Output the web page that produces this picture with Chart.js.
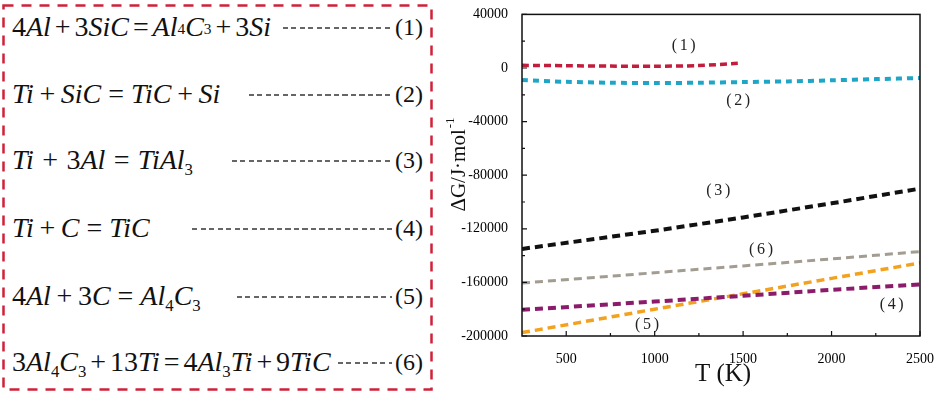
<!DOCTYPE html>
<html>
<head>
<meta charset="utf-8">
<script src="https://cdn.jsdelivr.net/npm/chart.js@4.4.1/dist/chart.umd.min.js"></script>
<style>
  html, body { margin: 0; padding: 0; background: #fff; }
  body { width: 941px; height: 395px; position: relative; overflow: hidden; font-family: "Liberation Serif", "Times New Roman", serif; }
  #box { position: absolute; left: 0; top: 0; }
  .row { position: absolute; left: 12px; width: 411px; height: 40px; line-height: 40px; font-size: 28px; color: #111; white-space: nowrap;
         font-family: "Liberation Serif", "Times New Roman", serif; }
  .row i { font-style: italic; }
  .op { margin: 0 0.2em; }
  .eq { margin: 0 0.25em; }
  .tight .op, .tight .eq { margin: 0 0.14em; }
  .wide .op, .wide .eq { margin: 0 0.3em; }
  .row sub { font-size: 0.6em; vertical-align: -0.35em; line-height: 0; }
  .small { font-size: 0.55em; vertical-align: 0.15em; }
  .lead { position: absolute; right: 31px; top: 20px; height: 1.5px;
          background: repeating-linear-gradient(90deg, #666 0 5px, transparent 5px 8.5px); }
  .num { position: absolute; right: 0; top: 0; font-size: 24px; }
  #wrap { position: absolute; left: 440px; top: 0; width: 501px; height: 395px; }
</style>
</head>
<body>
<svg id="box" width="440" height="395">
  <rect x="3.5" y="5.5" width="428" height="384" fill="none" stroke="#d0203a" stroke-width="2.5" stroke-dasharray="10 8"/>
</svg>

<div class="row tight" style="top:7px"><span>4<i>Al</i><span class="op">+</span>3<i>SiC</i><span class="eq">=</span><i>Al</i><span class="small">4</span><i>C</i><span class="small">3</span><span class="op">+</span>3<i>Si</i></span>
  <span class="lead" style="left:271px"></span><span class="num">(1)</span></div>
<div class="row" style="top:74px"><span><i>Ti</i><span class="op">+</span><i>SiC</i><span class="eq">=</span><i>TiC</i><span class="op">+</span><i>Si</i></span>
  <span class="lead" style="left:237px"></span><span class="num">(2)</span></div>
<div class="row wide" style="top:140px"><span><i>Ti</i><span class="op">+</span>3<i>Al</i><span class="eq">=</span><i>TiAl</i><sub>3</sub></span>
  <span class="lead" style="left:220px"></span><span class="num">(3)</span></div>
<div class="row" style="top:208px"><span><i>Ti</i><span class="op">+</span><i>C</i><span class="eq">=</span><i>TiC</i></span>
  <span class="lead" style="left:180px"></span><span class="num">(4)</span></div>
<div class="row" style="top:276px"><span>4<i>Al</i><span class="op">+</span>3<i>C</i><span class="eq">=</span><i>Al</i><sub>4</sub><i>C</i><sub>3</sub></span>
  <span class="lead" style="left:225px"></span><span class="num">(5)</span></div>
<div class="row tight" style="top:342px"><span>3<i>Al</i><sub>4</sub><i>C</i><sub>3</sub><span class="op">+</span>13<i>Ti</i><span class="eq">=</span>4<i>Al</i><sub>3</sub><i>Ti</i><span class="op">+</span>9<i>TiC</i></span>
  <span class="lead" style="left:326px"></span><span class="num">(6)</span></div>

<div id="wrap"><canvas id="chart"></canvas></div>

<script>
// temperatures (K) and Gibbs free energy change (J/mol)
const tempR1 = [250, 500, 750, 1000, 1250, 1470];
const dgR1 = [2000, 1700, 1400, 1300, 1800, 3500];

const tempR2 = [250, 500, 750, 1000, 1250, 1500, 1750, 2000, 2250, 2500];
const dgR2 = [-9000, -10300, -11000, -11200, -11000, -10500, -10000, -9200, -8300, -7500];

const tempLin = [250, 1000, 1500, 2000, 2500];
const dgR3 = [-135000, -121500, -111500, -101000, -90000];
const dgR4 = [-180500, -174300, -170000, -165500, -161500];
const dgR5 = [-197500, -180000, -168500, -157000, -145500];
const dgR6 = [-160500, -152800, -147700, -142500, -137000];

const xTicks = [500, 1000, 1500, 2000, 2500];
const xMinor = [750, 1250, 1750, 2250];
const yTicks = [-200000, -160000, -120000, -80000, -40000, 0, 40000];
const yMinor = [-180000, -140000, -100000, -60000, -20000, 20000];

const curveNames = ["(1)", "(2)", "(3)", "(4)", "(5)", "(6)"];
const curveLabelAt = [[1164, 16400], [1472, -24500], [1360, -91500], [2340, -177000], [957, -191800], [1601, -136000]];

function pts(ts, vs) {
  return ts.map((t, i) => ({ x: t, y: vs[i] }));
}

function series(ts, vs, color, width, dash, tension) {
  return {
    data: pts(ts, vs),
    borderColor: color,
    backgroundColor: color,
    borderWidth: width,
    borderDash: dash,
    pointRadius: 0,
    tension: tension || 0,
    fill: false,
  };
}

const serif = "'Liberation Serif', 'Times New Roman', serif";

// frame, inward ticks, axis titles and curve labels
const decor = {
  id: "decor",
  afterDraw(chart) {
    const { ctx, chartArea: a, scales } = chart;
    const xs = scales.x, ys = scales.y;
    ctx.save();
    ctx.strokeStyle = "#111";
    ctx.lineWidth = 1.5;
    ctx.strokeRect(a.left, a.top, a.right - a.left, a.bottom - a.top);

    ctx.lineWidth = 1.2;
    ctx.beginPath();
    xTicks.forEach((v) => { const p = xs.getPixelForValue(v); ctx.moveTo(p, a.bottom); ctx.lineTo(p, a.bottom - 5); });
    xMinor.forEach((v) => { const p = xs.getPixelForValue(v); ctx.moveTo(p, a.bottom); ctx.lineTo(p, a.bottom - 3); });
    yTicks.forEach((v) => { const p = ys.getPixelForValue(v); ctx.moveTo(a.left, p); ctx.lineTo(a.left + 5, p); });
    yMinor.forEach((v) => { const p = ys.getPixelForValue(v); ctx.moveTo(a.left, p); ctx.lineTo(a.left + 3, p); });
    ctx.stroke();

    ctx.fillStyle = "#111";
    ctx.textAlign = "center";
    ctx.textBaseline = "middle";
    ctx.font = "25px " + serif;
    ctx.fillText("T (K)", 283, 374);

    // y title rotated, with superscript
    ctx.save();
    ctx.translate(19, 165);
    ctx.rotate(-Math.PI / 2);
    ctx.font = "21px " + serif;
    const main = "\u0394G/J\u00b7mol";
    const w1 = ctx.measureText(main).width;
    ctx.font = "13px " + serif;
    const w2 = ctx.measureText("-1").width;
    const start = -(w1 + w2) / 2;
    ctx.textAlign = "left";
    ctx.font = "21px " + serif;
    ctx.fillText(main, start, 0);
    ctx.font = "13px " + serif;
    ctx.fillText("-1", start + w1 + 1, -8);
    ctx.restore();

    ctx.font = "16px " + serif;
    ctx.fillStyle = "#222";
    curveNames.forEach((n, i) => {
      const [t, g] = curveLabelAt[i];
      ctx.fillText(n.replace("(", "(\u2006").replace(")", "\u2006)"), xs.getPixelForValue(t), ys.getPixelForValue(g));
    });
    ctx.restore();
  },
};

new Chart(document.getElementById("chart").getContext("2d"), {
  type: "line",
  data: {
    datasets: [
      series(tempR1, dgR1, "#c21d3c", 3.5, [7, 4], 0.3),
      series(tempR2, dgR2, "#1fa6c6", 4, [6, 5], 0.3),
      series(tempLin, dgR3, "#111111", 4, [8, 5]),
      series(tempLin, dgR4, "#8b1c6c", 4, [8, 5]),
      series(tempLin, dgR5, "#f2a21e", 3.5, [8, 5]),
      series(tempLin, dgR6, "#a29c91", 3, [8, 5]),
    ],
  },
  options: {
    responsive: true,
    maintainAspectRatio: false,
    animation: false,
    devicePixelRatio: 1,
    layout: { padding: { top: 13, right: 17, left: 0, bottom: 0 } },
    plugins: { legend: { display: false }, tooltip: { enabled: false } },
    scales: {
      x: {
        type: "linear",
        min: 250,
        max: 2500,
        grid: { display: false },
        border: { display: false },
        afterBuildTicks: (s) => { s.ticks = xTicks.map((v) => ({ value: v })); },
        afterFit: (s) => { s.height = 59; },
        ticks: { padding: 7, color: "#000", font: { family: serif, size: 14 }, maxRotation: 0, callback: (v) => String(v) },
      },
      y: {
        min: -200000,
        max: 40000,
        grid: { display: false },
        border: { display: false },
        afterBuildTicks: (s) => { s.ticks = yTicks.map((v) => ({ value: v })); },
        afterFit: (s) => { s.width = 82; },
        ticks: { padding: 6, color: "#000", font: { family: serif, size: 14 }, callback: (v) => String(v) },
      },
    },
  },
  plugins: [decor],
});
</script>
</body>
</html>
